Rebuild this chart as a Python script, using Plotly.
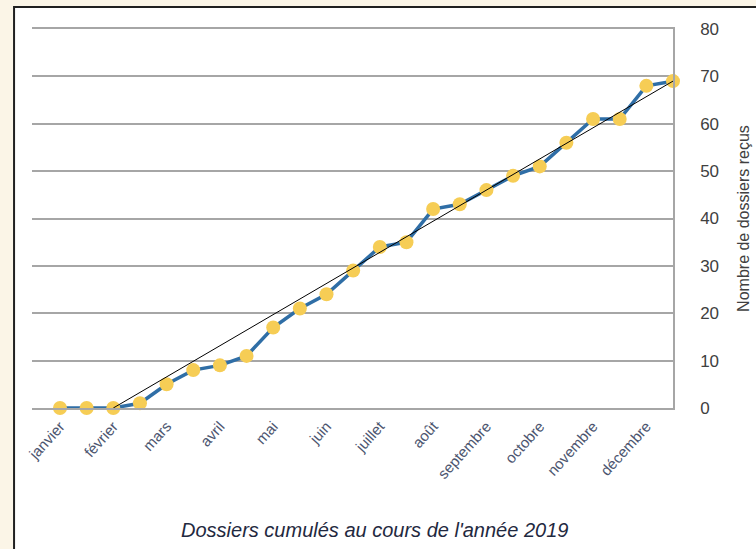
import plotly.graph_objects as go

# deux relevés par mois, de janvier à décembre
mois = ["janvier", "février", "mars", "avril", "mai", "juin",
        "juillet", "août", "septembre", "octobre", "novembre", "décembre"]
releves = list(range(24))
dossiers = [0, 0, 0, 1, 5, 8, 9, 11, 17, 21, 24, 29,
            34, 35, 42, 43, 46, 49, 51, 56, 61, 61, 68, 69]
# tendance linéaire (début / fin)
tendance_x = [2, 23]
tendance_y = [0, 69]

GRIS = "#a6a6a6"
TEXTE = "#404040"

fig = go.Figure()

fig.add_trace(go.Scatter(
    x=releves, y=dossiers, mode="lines+markers",
    line=dict(color="#2f6ea6", width=3.5),
    marker=dict(size=14, color="#f6cd55"),
    cliponaxis=False, showlegend=False, hoverinfo="skip"
))

fig.add_trace(go.Scatter(
    x=tendance_x, y=tendance_y, mode="lines",
    line=dict(color="black", width=1),
    cliponaxis=False, showlegend=False, hoverinfo="skip"
))

# cadre blanc sur fond crème
fig.add_shape(type="rect", xref="paper", yref="paper",
              x0=-0.028, x1=1.3, y0=-0.6, y1=1.058,
              fillcolor="white", line=dict(color="#202020", width=2),
              layer="below")

fig.add_annotation(
    text="<i>Dossiers cumulés au cours de l'année 2019</i>",
    xref="paper", yref="paper", x=0.535, y=-0.322,
    yanchor="middle", showarrow=False,
    font=dict(family="Liberation Sans, Arial", size=20, color="#1f2940")
)

fig.update_layout(
    width=756, height=549,
    margin=dict(l=32, r=83, t=29, b=141),
    paper_bgcolor="#fbf5e7",
    plot_bgcolor="white",
    font=dict(family="Liberation Sans, Arial", color=TEXTE),
    xaxis=dict(
        range=[-1.05, 23],
        tickmode="array",
        tickvals=[2 * i for i in range(len(mois))],
        ticktext=mois,
        tickangle=-48,
        tickfont=dict(size=15, color="#4d5670"),
        showgrid=False, zeroline=False,
        showline=True, mirror=True, linecolor=GRIS, linewidth=1.5,
        ticks="", ticklabelstandoff=2,
        automargin=False
    ),
    yaxis=dict(
        side="right",
        range=[0, 80],
        tickvals=[0, 10, 20, 30, 40, 50, 60, 70, 80],
        tickfont=dict(size=17, color=TEXTE),
        ticks="",
        ticklabelstandoff=22,
        showgrid=True, gridcolor=GRIS, gridwidth=1.5,
        zeroline=False,
        showline=True, linecolor=GRIS, linewidth=1.5,
        automargin=False,
        title=dict(text="Nombre de dossiers reçus",
                   font=dict(size=16, color=TEXTE), standoff=20)
    )
)

# la page n'a pas de marge autour du graphique
fig.write_html("out.html", config={"displayModeBar": False},
               post_script="document.body.style.margin='0';"
                           "document.body.style.background='#fbf5e7';")
